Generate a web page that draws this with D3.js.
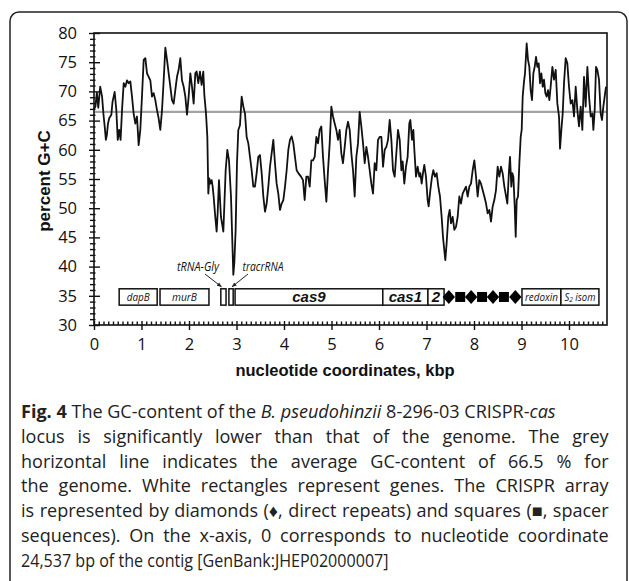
<!DOCTYPE html>
<html><head><meta charset="utf-8">
<script src="https://cdn.jsdelivr.net/npm/d3@7"></script>
<style>body{margin:0;background:#fff}svg{display:block}</style>
</head><body>
<svg id="c" width="629" height="581"></svg>
<script>
// ---- data ----
const gcPos = [0.00,0.03,0.06,0.09,0.13,0.17,0.20,0.225,0.25,0.27,0.295,0.32,0.365,0.39,0.435,0.47,0.50,0.53,0.56,0.59,0.625,0.66,0.695,0.73,0.765,0.80,0.835,0.87,0.905,0.94,0.975,1.01,1.046,1.081,1.116,1.151,1.186,1.221,1.256,1.291,1.326,1.361,1.396,1.432,1.467,1.502,1.537,1.572,1.607,1.642,1.677,1.712,1.747,1.782,1.817,1.852,1.888,1.923,1.958,1.993,2.028,2.063,2.098,2.133,
2.161,2.196,2.231,2.266,2.301,2.323,2.358,2.386,2.407,2.428,2.449,2.477,2.498,2.519,2.547,2.582,2.603,2.631,2.673,2.723,2.772,2.807,2.842,2.884,2.933,2.954,2.982,3.010,3.038,3.073,3.109,3.144,3.179,3.214,3.249,3.284,3.319,3.354,3.389,3.424,3.459,3.494,3.530,3.565,3.600,3.635,3.670,3.705,3.740,3.775,3.810,3.845,3.880,3.915,3.951,3.986,4.021,4.056,4.091,4.126,4.161,4.196,4.231,4.266,4.302,4.358,
4.40,4.435,4.47,4.506,4.541,4.576,4.611,4.646,4.681,4.716,4.751,4.786,4.821,4.856,4.892,4.927,4.962,4.997,5.032,5.067,5.102,5.137,5.172,5.207,5.242,5.278,5.313,5.348,5.383,5.418,5.453,5.488,5.523,5.558,5.593,5.628,5.664,5.699,5.734,5.769,5.804,5.839,5.874,5.909,5.944,5.979,6.014,6.05,6.085,6.12,6.155,6.19,6.225,6.26,6.295,6.33,6.365,6.40,6.436,6.471,
6.498,6.533,6.568,6.603,6.638,6.66,6.695,6.723,6.744,6.779,6.814,6.849,6.87,6.898,6.926,6.954,6.989,7.024,7.045,7.081,7.116,7.144,7.179,7.214,7.249,7.284,7.319,7.347,7.375,7.396,7.424,7.459,7.488,7.516,7.551,7.586,7.621,7.656,7.691,7.726,7.761,7.796,7.831,7.867,7.902,7.937,7.972,8.007,8.042,8.077,8.112,8.147,8.182,8.218,8.253,8.288,8.323,8.358,8.393,8.428,8.463,8.498,8.533,8.568,8.603,8.639,
8.702,8.737,8.758,8.786,8.807,8.829,8.857,8.878,8.899,8.927,8.955,8.983,9.004,9.025,9.053,9.074,9.109,9.137,9.165,9.193,9.221,9.25,9.278,9.306,9.334,9.362,9.39,9.418,9.446,9.474,9.502,9.53,9.558,9.586,9.614,9.65,9.685,9.72,9.755,9.79,9.811,9.839,9.867,9.895,9.93,9.965,10.0,10.036,10.071,10.106,10.141,10.176,10.211,10.246,10.281,10.316,10.351,10.387,10.422,10.457,10.492,10.513,10.541,10.569,10.597,10.632,10.667,10.695,10.723,10.751,10.779];
const gcVal = [67.0,67.4,69.8,67.2,70.8,69.1,66.0,64.0,61.7,62.5,64.5,65.4,66.0,68.2,69.9,66.8,61.7,63.4,61.7,66.8,71.4,70.8,71.9,71.4,71.7,69.1,66.2,64.5,65.7,60.8,63.4,69.1,75.4,75.7,73.1,72.5,71.9,69.1,69.7,68.5,66.8,65.4,63.4,66.8,71.9,77.5,75.4,73.1,70.8,68.5,67.9,70.2,72.5,73.7,75.7,71.9,70.8,69.1,66.0,69.1,73.1,70.8,67.9,73.1,
73.4,71.4,73.4,71.1,73.4,69.4,66.2,62.2,52.5,55.1,54.2,54.8,53.7,52.0,49.1,46.0,49.1,54.8,48.5,46.0,56.5,60.0,58.2,52.0,38.6,40.6,46.3,57.7,63.4,64.2,69.1,67.4,66.2,62.2,61.1,58.8,56.5,53.7,53.7,56.0,58.8,59.1,56.0,52.0,49.4,50.8,53.7,57.1,59.4,61.7,57.7,54.2,52.5,49.7,50.8,51.4,53.7,56.5,60.0,61.7,62.3,61.1,58.8,56.5,56.0,55.4,
54.8,51.4,55.4,55.4,53.7,58.2,58.2,58.8,62.2,61.1,63.4,64.0,58.8,54.8,51.1,56.5,61.1,67.4,65.7,64.5,63.4,61.7,63.4,59.4,57.7,60.5,63.4,64.8,63.4,59.4,56.5,52.0,58.8,61.1,66.5,64.0,61.1,57.7,60.5,58.8,56.5,54.2,52.5,57.7,56.5,61.7,62.2,62.2,57.1,60.0,60.5,61.7,65.1,61.7,56.5,55.4,59.4,63.4,61.7,56.5,
58.0,54.2,57.1,58.8,64.5,65.1,61.7,63.4,60.0,55.4,57.1,55.4,56.0,54.2,56.0,57.4,55.4,51.4,50.3,53.1,55.4,56.5,55.4,56.0,53.7,52.0,48.5,45.1,42.8,41.1,44.0,48.5,49.7,47.4,48.5,46.3,46.8,48.5,52.0,50.8,52.5,53.1,53.7,52.0,53.7,54.2,56.5,58.2,55.4,52.0,54.8,54.2,53.1,52.0,50.8,49.1,49.7,47.7,50.3,51.4,53.1,57.1,55.4,57.1,56.0,53.7,
50.8,56.5,58.8,53.7,56.0,55.4,50.3,45.1,51.4,52.0,57.7,62.2,63.4,69.1,71.7,73.1,78.2,75.4,74.2,70.2,68.5,73.1,74.2,75.9,74.2,74.8,71.4,73.1,70.8,72.0,69.7,69.1,70.2,68.5,70.8,74.2,72.0,73.7,67.9,65.7,60.2,63.4,66.2,71.4,75.7,74.8,70.8,67.9,68.5,65.7,70.8,66.8,64.0,67.4,63.4,72.5,67.4,74.2,69.1,65.7,66.2,63.4,66.8,74.2,73.7,72.0,66.2,65.1,67.4,69.1,70.8];
const genomeAvg = 66.5;
const yTicks = [30,35,40,45,50,55,60,65,70,75,80];
const xTicks = [0,1,2,3,4,5,6,7,8,9,10];
const geneNames = ["dapB","murB","","","cas9","cas1","2","redoxin","S2 isom"];
const geneStart = [0.53,1.39,2.67,2.84,2.97,6.08,7.03,9.01,9.83];
const geneEnd   = [1.33,2.42,2.78,2.93,6.08,7.03,7.37,9.83,10.63];
const geneBold  = [false,false,false,false,true,true,true,false,false];
const crisprKind = ["repeat","spacer","repeat","spacer","repeat","spacer","repeat"];
const crisprPos  = [7.47,7.71,7.94,8.17,8.40,8.63,8.87];
const rnaLabels = ["tRNA-Gly","tracrRNA"];
const rnaTarget = [2.725,2.885];
const captionLines = [
  [{t:"Fig. 4",b:1},{t:" The GC-content of the "},{t:"B. pseudohinzii",i:1},{t:" 8-296-03 CRISPR-"},{t:"cas",i:1}],
  [{t:"locus is significantly lower than that of the genome. The grey"}],
  [{t:"horizontal line indicates the average GC-content of 66.5 % for"}],
  [{t:"the genome. White rectangles represent genes. The CRISPR array"}],
  [{t:"is represented by diamonds (\u2666, direct repeats) and squares (\u25A0, spacer"}],
  [{t:"sequences). On the x-axis, 0 corresponds to nucleotide coordinate"}],
  [{t:"24,537 bp of the contig [GenBank:JHEP02000007]"}]
];

// ---- drawing ----
const svg = d3.select("#c");
const L=94, R=607, T=33, B=325;
const x = d3.scaleLinear().domain([0,10.8]).range([L,R]);
const y = d3.scaleLinear().domain([30,80]).range([B,T]);
const tickFont = "'Open Sans', sans-serif";

// outer rounded frame
svg.append("rect").attr("x",10).attr("y",12).attr("width",617).attr("height",620)
  .attr("rx",9).attr("fill","none").attr("stroke","#222").attr("stroke-width",1.5);

// average line
svg.append("line").attr("x1",L).attr("x2",R).attr("y1",y(genomeAvg)).attr("y2",y(genomeAvg))
  .attr("stroke","#a3a3a3").attr("stroke-width",2.2);

// GC curve
const pts = gcPos.map((p,i)=>[p,gcVal[i]]);
svg.append("path").datum(pts)
  .attr("d", d3.line().x(d=>x(d[0])).y(d=>y(d[1])))
  .attr("fill","none").attr("stroke","#111").attr("stroke-width",1.8).attr("stroke-linejoin","round");

// gene boxes
const bTop=y(36.2), bBot=y(33.4);
const genes = geneNames.map((n,i)=>({n,s:geneStart[i],e:geneEnd[i],b:geneBold[i]}));
svg.append("g").selectAll("rect").data(genes).join("rect")
  .attr("x",d=>x(d.s)).attr("y",bTop).attr("width",d=>x(d.e)-x(d.s)).attr("height",bBot-bTop)
  .attr("fill","#fff").attr("stroke","#111").attr("stroke-width",1.5);
const labelW = {"dapB":23,"murB":25,"redoxin":33,"S2 isom":31};
const gl = svg.append("g").selectAll("text").data(genes.filter(d=>d.n)).join("text")
  .attr("x",d=>(x(d.s)+x(d.e))/2).attr("y",(bTop+bBot)/2).attr("dy","0.36em")
  .attr("text-anchor","middle").attr("font-style","italic")
  .attr("font-family",d=>d.b?"'Liberation Sans', Arial, sans-serif":tickFont)
  .attr("font-weight",d=>d.b?"bold":"normal")
  .attr("font-size",d=>d.b?15:11.5).attr("fill","#111");
gl.each(function(d){
  const t=d3.select(this);
  if(d.n==="S2 isom"){ t.append("tspan").text("S"); t.append("tspan").attr("font-size",8).attr("dy","0.12em").text("2"); t.append("tspan").attr("dy","-0.12em").text(" isom"); }
  else t.text(d.n);
  if(labelW[d.n]) t.attr("textLength",labelW[d.n]).attr("lengthAdjust","spacingAndGlyphs");
});

// CRISPR array symbols
const cy=(bTop+bBot)/2;
svg.append("g").selectAll("path").data(crisprKind.map((k,i)=>({k,p:crisprPos[i]}))).join("path")
  .attr("d",d=>{const cx=x(d.p); return d.k==="repeat"
     ? `M${cx},${cy-7}L${cx+6.2},${cy}L${cx},${cy+7}L${cx-6.2},${cy}Z`
     : `M${cx-5},${cy-5}h10v10h-10Z`;})
  .attr("fill","#000");

// RNA labels with arrows
svg.append("defs").append("marker").attr("id","ah").attr("viewBox","0 0 10 10").attr("refX",9).attr("refY",5)
  .attr("markerWidth",5).attr("markerHeight",5).attr("orient","auto")
  .append("path").attr("d","M0,1L10,5L0,9Z").attr("fill","#222");
rnaLabels.forEach((s,i)=>{
  const lx = i===0? 198:263;
  svg.append("text").attr("x",lx).attr("y",271).attr("text-anchor","middle")
    .attr("font-family",tickFont).attr("font-style","italic").attr("font-size",12.5).attr("fill","#111")
    .attr("textLength",i===0?42:41).attr("lengthAdjust","spacingAndGlyphs").text(s);
  const sx = i===0? 205:248;
  svg.append("line").attr("x1",sx).attr("y1",274).attr("x2",x(rnaTarget[i])+(i===0?-2:1)).attr("y2",bTop-2)
    .attr("stroke","#222").attr("stroke-width",1).attr("marker-end","url(#ah)");
});

// plot frame
svg.append("rect").attr("x",L).attr("y",T).attr("width",R-L).attr("height",B-T)
  .attr("fill","none").attr("stroke","#111").attr("stroke-width",1.6);

// axes
function styleAxis(g){ g.select(".domain").remove(); g.selectAll("line").attr("stroke","#111").attr("stroke-width",1.4);
  g.selectAll("text").attr("font-family",tickFont).attr("font-size",16.5).attr("fill","#111"); }
const yMinor = d3.range(30,81).filter(v=>v%5!==0);
const xMinor = d3.range(0,108).map(v=>v/10).filter((v,i)=>i%10!==0);
svg.append("g").attr("transform",`translate(${L},0)`).call(d3.axisLeft(y).tickValues(yMinor).tickSize(4).tickFormat("")).call(styleAxis);
svg.append("g").attr("transform",`translate(${L},0)`).call(d3.axisRight(y).tickValues(yMinor).tickSize(1.5).tickFormat("")).call(styleAxis);
svg.append("g").attr("transform",`translate(${L},0)`).call(d3.axisLeft(y).tickValues(yTicks).tickSize(5).tickPadding(12)).call(styleAxis);
svg.append("g").attr("transform",`translate(${L},0)`).call(d3.axisRight(y).tickValues(yTicks).tickSize(6).tickFormat("")).call(styleAxis);
svg.append("g").attr("transform",`translate(0,${B})`).call(d3.axisTop(x).tickValues(xMinor).tickSize(3.5).tickFormat("")).call(styleAxis);
svg.append("g").attr("transform",`translate(0,${B})`).call(d3.axisBottom(x).tickValues(xTicks).tickSize(5).tickPadding(8)).call(styleAxis);
svg.append("g").attr("transform",`translate(0,${B})`).call(d3.axisTop(x).tickValues(xTicks).tickSize(4).tickFormat("")).call(styleAxis);

// axis titles
svg.append("text").attr("transform","translate(49.5,181) rotate(-90)").attr("text-anchor","middle")
  .attr("font-family","'Liberation Sans', Arial, sans-serif").attr("font-weight","bold").attr("font-size",17).attr("fill","#111").text("percent G+C");
svg.append("text").attr("x",345).attr("y",376).attr("text-anchor","middle")
  .attr("font-family","'Liberation Sans', Arial, sans-serif").attr("font-weight","bold").attr("font-size",16.5).attr("fill","#111").text("nucleotide coordinates, kbp");

// caption
const capFont = "'Open Sans', sans-serif";
const capG = svg.append("g");
const texts = captionLines.map((segs,i)=>{
  const t = capG.append("text").attr("x",0).attr("y",0).attr("font-family",capFont).attr("font-size",17.5).attr("fill","#222");
  segs.forEach(s=>t.append("tspan").text(s.t).attr("font-weight",s.b?"bold":null).attr("font-style",s.i?"italic":null));
  return t;
});
const w0 = texts[0].node().getComputedTextLength();
const k = 535/w0;
texts.forEach((t,i)=>{
  let kk = k;
  if(i===6){ kk = Math.min(k, 368/t.node().getComputedTextLength()); }
  if(i>=1 && i<=5){
    const w = t.node().getComputedTextLength();
    if(w*k > 588) kk = 588/w;
    else {
      const str = captionLines[i].map(s=>s.t).join("");
      const ns = (str.match(/ /g)||[]).length;
      t.style("word-spacing", ((588/k - w)/ns)+"px");
    }
  }
  t.attr("transform", `translate(21,${418+i*24.8}) scale(${kk},1)`);
});
</script>
</body></html>
